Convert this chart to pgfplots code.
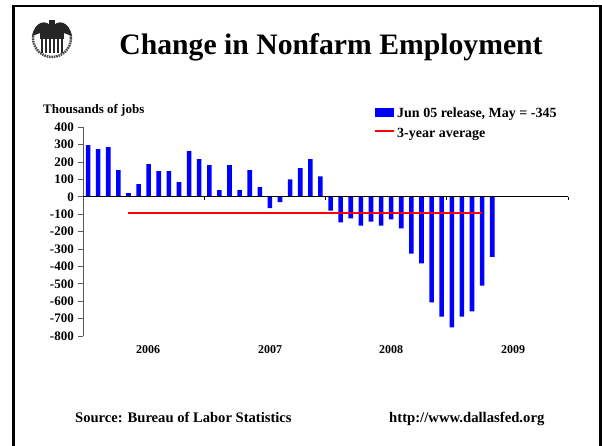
\documentclass[border=0pt]{standalone}
\usepackage{pgfplots}
\pgfplotsset{compat=1.18}
\usepackage{fontspec}
\setmainfont{Liberation Serif}
\pgfplotstableread{
idx val
0 297
1 274
2 285
3 153
4 21
5 73
6 188
7 147
8 147
9 84
10 262
11 216
12 182
13 38
14 182
15 38
16 153
17 55
18 -65
19 -31
20 100
21 165
22 216
23 118
24 -79
25 -147
26 -124
27 -165
28 -142
29 -165
30 -130
31 -182
32 -326
33 -383
34 -607
35 -688
36 -751
37 -688
38 -659
39 -510
40 -345
}\jobs
\begin{document}
\begin{tikzpicture}[x=1pt,y=1pt]
\path[use as bounding box] (0,0) rectangle (602,445);
\fill[white] (0,0) rectangle (602,445);
\draw[black,line width=2.4pt] (13.5,-5) -- (13.5,439) -- (600.5,439) -- (600.5,-5);
\begin{axis}[
  at={(83pt,109pt)},anchor=south west,
  width=485pt,height=208.8pt,scale only axis,
  xmin=-0.5,xmax=47.5,ymin=-800,ymax=400,
  axis x line=none,axis y line=left,
  axis line style={-,line width=0.7pt},
  y axis line style={gray!70!black},
  xtick=\empty,
  ytick={-800,-700,...,400},
  yticklabel style={font=\bfseries\fontsize{13}{14}\selectfont,/pgf/number format/assume math mode=true,inner sep=1pt,xshift=-3pt},
  ytick style={line width=0.7pt,gray!70!black},
  tick align=outside,
  major tick length=5pt,
  clip=false,
]
\addplot[ybar,bar width=4.6pt,fill=blue,draw=none,bar shift=0pt] table[x=idx,y=val]{\jobs};
\addplot[black,line width=0.7pt,no marks] coordinates {(-0.5,0) (47.5,0)};
\addplot[color=red,line width=1.6pt,no marks] coordinates {(4,-92) (39,-92)};
\draw[black,line width=0.7pt] (axis cs:11.5,0) -- ++(0pt,-3pt);
\draw[black,line width=0.7pt] (axis cs:23.5,0) -- ++(0pt,-3pt);
\draw[black,line width=0.7pt] (axis cs:35.5,0) -- ++(0pt,-3pt);
\draw[black,line width=0.7pt] (axis cs:47.5,0) -- ++(0pt,-3pt);
\end{axis}
% labels
\node[anchor=west,inner sep=0pt,font=\bfseries\fontsize{13}{14}\selectfont] at (43,334.5) {Thousands of jobs};
\node[anchor=base,inner sep=0pt,font=\bfseries\fontsize{29.7}{32}\selectfont] at (331,390) {Change in Nonfarm Employment};
\foreach \x/\t in {148/2006,270/2007,391/2008,513/2009}
  \node[font=\bfseries\fontsize{12}{14}\selectfont] at (\x,95) {\t};
\node[anchor=base west,inner sep=0pt,font=\bfseries\fontsize{14.6}{15}\selectfont] at (75,23) {Source: Bureau of Labor Statistics};
\node[anchor=base west,inner sep=0pt,font=\bfseries\fontsize{14.7}{15}\selectfont] at (389,23) {http://www.dallasfed.org};
% legend
\fill[blue] (375,328) rectangle (394,337);
\node[anchor=west,font=\bfseries\fontsize{14}{15}\selectfont,inner sep=0pt] at (397,331) {Jun 05 release, May = -345};
\draw[red,line width=1.6pt] (375,314) -- (394,314);
\node[anchor=west,font=\bfseries\fontsize{14}{15}\selectfont,inner sep=0pt] at (397,311) {3-year average};
% seal
\begin{scope}[shift={(52,407)}]
\draw[black!70,line width=2.5pt,dash pattern=on 1.6pt off 0.8pt] (0,0) circle (19);
\fill[white] (-22,3) rectangle (22,22);
\fill[black!85] (-20,2) .. controls (-17,17) and (-6,19) .. (0,11) .. controls (6,19) and (17,17) .. (20,2) -- (9,6) -- (-9,6) -- cycle;
\fill[black!85] (-3,9) rectangle (3,18);
\fill[black!85] (-12,6) rectangle (12,-1);
\foreach \x in {-10,-6,...,10} \fill[black!85] (\x-1.2,-1) rectangle (\x+1.2,-15);
\end{scope}
\end{tikzpicture}
\end{document}
